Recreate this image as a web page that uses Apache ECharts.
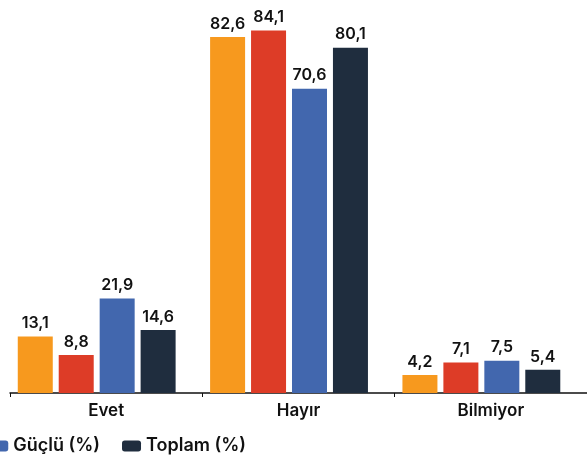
<!DOCTYPE html>
<html>
<head>
<meta charset="utf-8">
<script src="https://cdn.jsdelivr.net/npm/echarts@6/dist/echarts.min.js"></script>
<style>
  html, body { margin: 0; padding: 0; background: #fff; }
  #chart { width: 587px; height: 455px; }
</style>
</head>
<body>
<div id="chart"></div>
<script>
// answers and series values (%)
const categories = ['Evet', 'Hayır', 'Bilmiyor'];
const seriesNames = ['Zayıf (%)', 'Orta (%)', 'Güçlü (%)', 'Toplam (%)'];
const zayif = [13.1, 82.6, 4.2];
const orta = [8.8, 84.1, 7.1];
const guclu = [21.9, 70.6, 7.5];
const toplam = [14.6, 80.1, 5.4];
const colors = ['#F7991E', '#DD3C27', '#4267AE', '#1F2D3E'];

const valueLists = [zayif, orta, guclu, toplam];
const fontFamily = 'Inter, "Noto Sans", sans-serif';
const legendFont = '600 18px ' + fontFamily;

// the legend is wider than the picture: its first items run off the left edge,
// so place it so that the third item's icon starts just left of x = 0
const ctx = document.createElement('canvas').getContext('2d');
ctx.font = legendFont;
const iconW = 19, iconTextGap = 5, legendGap = 22;
let hiddenWidth = 0;
for (let i = 0; i < 2; i++) {
  hiddenWidth += iconW + iconTextGap + ctx.measureText(seriesNames[i]).width + legendGap;
}
const legendLeft = Math.round(-16 - hiddenWidth);

const series = valueLists.map((values, i) => ({
  name: seriesNames[i],
  type: 'bar',
  barWidth: 35,
  barGap: '17%',
  itemStyle: { color: colors[i] },
  label: {
    show: true,
    position: 'top',
    distance: 5,
    color: '#111',
    fontSize: 16,
    fontWeight: 600,
    fontFamily: fontFamily,
    formatter: (p) => p.value.toFixed(1).replace('.', ','),
  },
  data: values,
}));

// empty slot so the bar groups sit a little left of the category centre, like the original
series.push({
  name: 'spacer',
  type: 'bar',
  barWidth: 13,
  barGap: '17%',
  silent: true,
  data: [null, null, null],
});

const myChart = echarts.init(document.getElementById('chart'));
const option = {
  animation: false,
  grid: {
    left: 10,
    right: -2,
    top: 5,
    bottom: 62,
  },
  legend: {
    data: seriesNames,
    left: legendLeft,
    width: 1200,
    top: 432,
    itemWidth: iconW,
    itemHeight: 11,
    itemGap: legendGap,
    icon: 'roundRect',
    textStyle: {
      color: '#111',
      fontSize: 18,
      fontWeight: 600,
      fontFamily: fontFamily,
    },
  },
  xAxis: {
    type: 'category',
    data: categories,
    axisLine: { lineStyle: { color: '#111', width: 1.5 } },
    axisTick: { show: true, length: 4, lineStyle: { color: '#111' } },
    axisLabel: {
      color: '#111',
      fontSize: 17,
      fontWeight: 600,
      fontFamily: fontFamily,
      margin: 9,
    },
  },
  yAxis: {
    type: 'value',
    min: 0,
    max: 90,
    show: false,
    splitLine: { show: false },
  },
  series: series,
};
myChart.setOption(option);
</script>
</body>
</html>
